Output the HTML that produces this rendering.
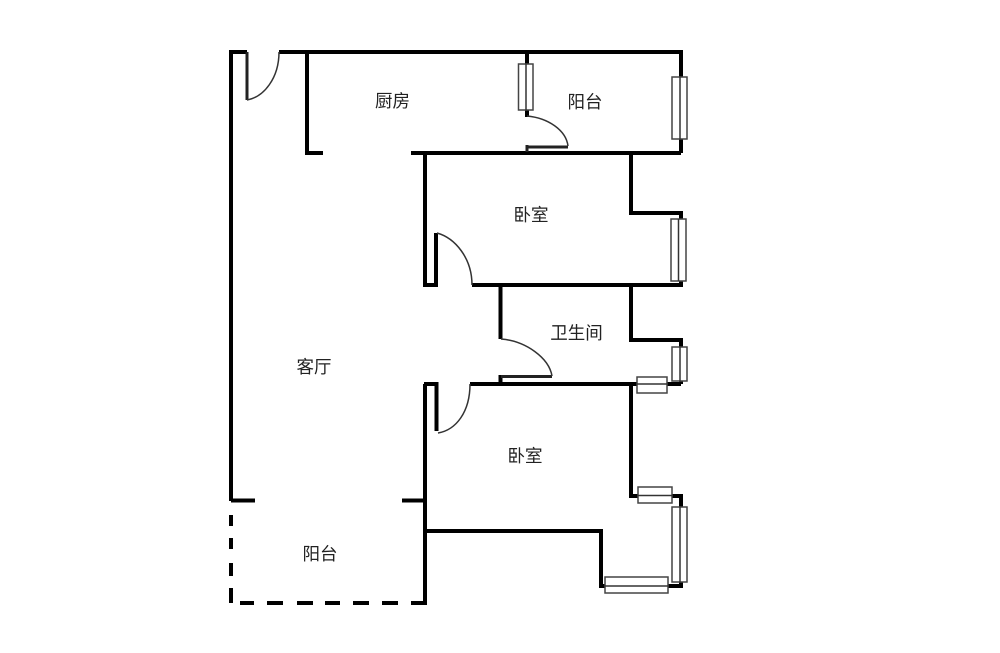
<!DOCTYPE html>
<html lang="zh">
<head>
<meta charset="utf-8">
<style>
html,body{margin:0;padding:0;background:#fff;width:1000px;height:653px;overflow:hidden}
svg{display:block;filter:blur(.35px)}
text{font-family:"Liberation Sans","Noto Sans CJK SC",sans-serif;font-size:17.5px;fill:#222;text-anchor:middle}
.w{fill:none;stroke:#000;stroke-width:4;stroke-linecap:butt;stroke-linejoin:miter}
.d{fill:none;stroke:#333;stroke-width:1.5}
.t{fill:none;stroke:#222;stroke-width:3}
.r{fill:#fff;stroke:#444;stroke-width:1.5}
.c{stroke:#333;stroke-width:1.5}
</style>
</head>
<body>
<svg width="1000" height="653" viewBox="0 0 1000 653" xmlns="http://www.w3.org/2000/svg">
<rect width="1000" height="653" fill="#fff"/>
<!-- walls -->
<path class="w" d="M247 52H231V501M279 52H681V153M307 52V153H323M411 153H681M425 153V285H436V233M472 285H681V213H631V153M500.500 285V339M631 285V340H681V384M527 52V117M500.500 384V375M470 384H681M424 384H436.500V431M425 384V605M631 384V496H681V508M681 582V586H601V531H425M231 500.500H255M402 500.500H425"/>
<path d="M247 52V100" class="t"/>
<path d="M527 145V152M527 147H568" class="t"/>
<path d="M501 376.500H552" class="t"/>
<!-- dashed balcony -->
<path fill="none" stroke="#000" stroke-width="4" d="M231 515V526M231 538V549M231 563V576M231 588V603"/>
<path fill="none" stroke="#000" stroke-width="4" d="M240 603H254M267 603H283M297 603H313M325 603H340M353 603H369M382 603H398M411 603H427"/>
<!-- door arcs -->
<path class="d" d="M247 100C264 97 279 78 279 52"/>
<path class="d" d="M527 116C548 118 566 130 568 146"/>
<path class="d" d="M437 233C455 238 472 258 472 285"/>
<path class="d" d="M501 339C526 341 549 358 552 376"/>
<path class="d" d="M438 433C456 430 470 412 470 384"/>
<!-- windows -->
<rect class="r" x="518.500" y="64" width="14.500" height="46"/><path class="c" d="M526 64V110"/>
<rect class="r" x="672" y="77" width="15" height="62"/><path class="c" d="M680 77V139"/>
<rect class="r" x="671" y="219" width="15" height="62"/><path class="c" d="M678.500 219V281"/>
<rect class="r" x="672" y="347" width="15" height="34"/><path class="c" d="M680 347V381"/>
<rect class="r" x="637" y="377" width="30" height="16"/><path class="c" d="M637 384H667"/>
<rect class="r" x="638" y="487" width="34" height="16"/><path class="c" d="M638 495.500H672"/>
<rect class="r" x="672" y="507" width="15" height="75"/><path class="c" d="M680 507V582"/>
<rect class="r" x="605" y="577" width="63" height="16"/><path class="c" d="M605 586H668"/>
<!-- labels -->
<text x="392.500" y="107">厨房</text>
<text x="585" y="108">阳台</text>
<text x="531" y="221">卧室</text>
<text x="576.500" y="339">卫生间</text>
<text x="314" y="373">客厅</text>
<text x="525" y="462">卧室</text>
<text x="320" y="560">阳台</text>
</svg>
</body>
</html>
